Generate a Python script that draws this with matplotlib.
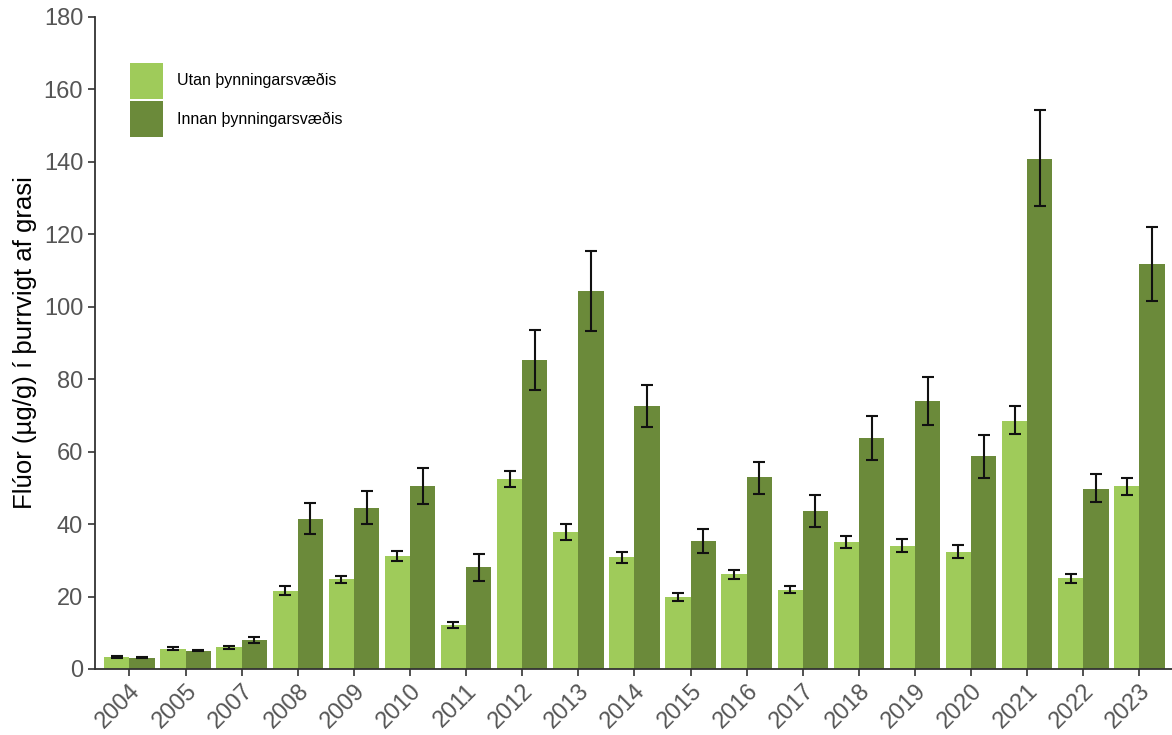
import numpy as np
import matplotlib
matplotlib.use("Agg")
import matplotlib.pyplot as plt
from matplotlib.patches import Patch

plt.rcParams['font.family'] = ['Liberation Sans', 'DejaVu Sans']

years = ["2004", "2005", "2007", "2008", "2009", "2010", "2011", "2012", "2013",
         "2014", "2015", "2016", "2017", "2018", "2019", "2020", "2021", "2022", "2023"]

# Utan þynningarsvæðis (outside the dilution zone)
utan = [3.4, 5.6, 6.0, 21.6, 24.8, 31.3, 12.1, 52.4, 37.7,
        30.8, 19.8, 26.1, 21.9, 35.1, 34.0, 32.4, 68.6, 25.1, 50.4]
utan_lo = [3.1, 5.2, 5.6, 20.4, 23.8, 29.9, 11.2, 50.2, 35.6,
           29.4, 18.9, 24.9, 20.9, 33.3, 32.3, 30.7, 64.8, 23.8, 47.9]
utan_hi = [3.7, 6.0, 6.4, 22.8, 25.8, 32.7, 13.0, 54.7, 39.9,
           32.3, 20.9, 27.2, 22.8, 36.8, 35.8, 34.1, 72.7, 26.3, 52.7]

# Innan þynningarsvæðis (inside the dilution zone)
innan = [3.1, 5.1, 8.0, 41.5, 44.4, 50.5, 28.1, 85.2, 104.3,
         72.7, 35.2, 52.9, 43.7, 63.8, 73.9, 58.7, 140.9, 49.8, 111.8]
innan_lo = [2.9, 5.0, 7.1, 37.2, 39.9, 45.6, 24.4, 76.9, 93.4,
            66.8, 32.0, 48.4, 39.3, 57.7, 67.3, 52.7, 127.7, 46.0, 101.5]
innan_hi = [3.4, 5.2, 8.8, 45.8, 49.1, 55.4, 31.8, 93.6, 115.3,
            78.3, 38.6, 57.2, 48.1, 69.8, 80.5, 64.7, 154.2, 53.9, 121.9]

labels = ["Utan þynningarsvæðis", "Innan þynningarsvæðis"]
y_ticks = [0, 20, 40, 60, 80, 100, 120, 140, 160, 180]
y_label = "Flúor (µg/g) í þurrvigt af grasi"

light = "#9fcb5a"
dark = "#6b8a3a"

fig = plt.figure(figsize=(11.72, 7.35), dpi=100)
ax = fig.add_axes([0.081, 0.0898, 0.919, 0.8871])

x = np.arange(len(years))
w = 0.45

u = np.array(utan); i_ = np.array(innan)
ax.bar(x - w / 2, u, width=w, color=light, zorder=2)
ax.bar(x + w / 2, i_, width=w, color=dark, zorder=2)

err_kw = dict(fmt="none", ecolor="#111111", elinewidth=1.5, capsize=4.5,
              capthick=1.5, zorder=3)
ax.errorbar(x - w / 2, u, yerr=[u - np.array(utan_lo), np.array(utan_hi) - u], **err_kw)
ax.errorbar(x + w / 2, i_, yerr=[i_ - np.array(innan_lo), np.array(innan_hi) - i_], **err_kw)

ax.set_xlim(-0.615, 18.58)
ax.set_ylim(0, 180)
ax.set_yticks(y_ticks)
ax.set_yticklabels([str(t) for t in y_ticks])
ax.set_xticks(x)
ax.set_xticklabels(years, rotation=45, ha="right", rotation_mode="anchor")

for s in ["top", "right"]:
    ax.spines[s].set_visible(False)
for s in ["left", "bottom"]:
    ax.spines[s].set_color("#333333")
    ax.spines[s].set_linewidth(1.3)

ax.tick_params(axis="both", colors="#333333", length=5, width=1.2,
               labelsize=17, labelcolor="#555555")
ax.tick_params(axis="x", pad=3)
ax.set_ylabel(y_label, fontsize=18.5, color="black")
ax.yaxis.set_label_coords(-0.054, 0.5)

handles = [Patch(facecolor=light, edgecolor="none"),
           Patch(facecolor=dark, edgecolor="none")]
ax.legend(handles, labels, loc="upper left", bbox_to_anchor=(0.0325, 0.93),
          frameon=False, fontsize=11.5, handlelength=2.07, handleheight=3.1,
          labelspacing=0.15, handletextpad=0.9, borderpad=0, borderaxespad=0)

fig.savefig("out.png", dpi=100)
